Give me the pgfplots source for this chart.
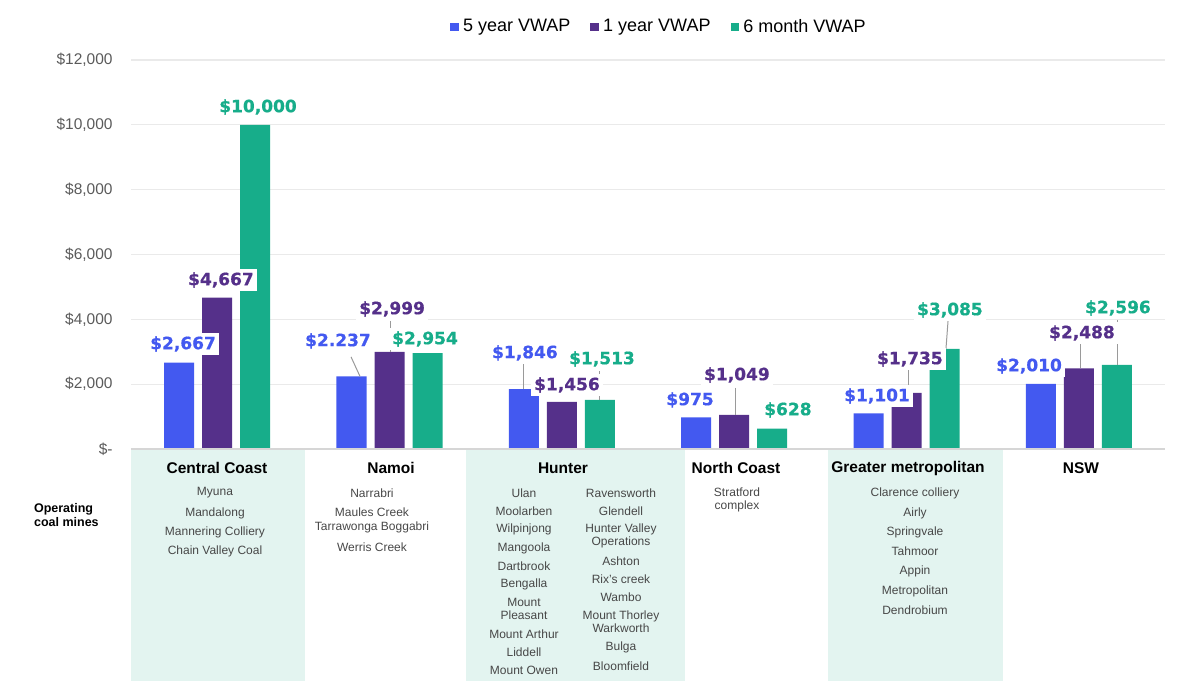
\documentclass[border=0pt]{standalone}
\usepackage{fontspec}
\setmainfont{Liberation Sans}
\newfontfamily\valfont[FakeBold=0.6]{DejaVu Sans Bold}
\usepackage{pgfplots}
\pgfplotsset{compat=1.18}

\definecolor{cblue}{HTML}{4359F0}
\definecolor{cpurple}{HTML}{55308A}
\definecolor{cgreen}{HTML}{17AD8A}
\definecolor{tablebg}{HTML}{E3F4F0}
\definecolor{gridc}{HTML}{EAEAEA}
\definecolor{basec}{HTML}{D6D6D6}
\definecolor{tickc}{HTML}{5A5A5A}
\definecolor{namec}{HTML}{474747}
\definecolor{leadc}{HTML}{9A9A9A}

% value labels and name lists
\tikzset{
  val/.style={fill=white, inner sep=1.5pt, font=\valfont\fontsize{8.5}{9}\selectfont},
  lead/.style={leadc, line width=0.5pt},
  hdr/.style={font=\bfseries\fontsize{7.75}{9}\selectfont, text=black},
  mine/.style={font=\fontsize{6}{6.6}\selectfont, text=namec, align=center},
}

\begin{document}
\begin{tikzpicture}
\path[use as bounding box] (-65.5pt,-116pt) rectangle (532pt,224.5pt);

% shaded columns of the mine table (pixel coordinates)
\begin{scope}[shift={(-65.5pt,224.5pt)}, x=0.5pt, y=-0.5pt]
  \fill[tablebg] (131,449) rectangle (305,681);
  \fill[tablebg] (466,449) rectangle (685,681);
  \fill[tablebg] (828,449) rectangle (1003,681);
\end{scope}

\begin{axis}[
    at={(0,0)}, anchor=south west,
    scale only axis,
    width=517pt, height=194.5pt,
    xmin=-0.5, xmax=5.5,
    ymin=0, ymax=12000,
    ybar=4pt, bar width=15pt,
    axis line style={draw=none},
    tick style={draw=none},
    xtick=\empty,
    scaled y ticks=false,
    ytick={0,2000,4000,6000,8000,10000,12000},
    yticklabels={{\$-\hspace{5pt}},{\$2,000},{\$4,000},{\$6,000},{\$8,000},{\$10,000},{\$12,000}},
    yticklabel style={font=\fontsize{7.75}{9}\selectfont, text=tickc, inner sep=0pt, xshift=-9pt},
    ymajorgrids,
    grid style={gridc, line width=0.6pt},
    clip=false,
    legend columns=3,
    legend style={at={(0.5116,1.0848)}, anchor=center, draw=none,
      font=\fontsize{9}{10}\selectfont, inner sep=0pt,
      /tikz/every even column/.append style={column sep=8pt}},
]
\addplot[fill=cblue, draw=none,
  legend image code/.code={\fill[cblue] (0pt,-2.2pt) rectangle (4.4pt,2.2pt);}]
  coordinates {(0,2667) (1,2237) (2,1846) (3,975) (4,1101) (5,2010)};
\addlegendentry{5 year VWAP}
\addplot[fill=cpurple, draw=none,
  legend image code/.code={\fill[cpurple] (0pt,-2.2pt) rectangle (4.4pt,2.2pt);}]
  coordinates {(0,4667) (1,2999) (2,1456) (3,1049) (4,1735) (5,2488)};
\addlegendentry{1 year VWAP}
\addplot[fill=cgreen, draw=none,
  legend image code/.code={\fill[cgreen] (0pt,-2.2pt) rectangle (4.4pt,2.2pt);}]
  coordinates {(0,10000) (1,2954) (2,1513) (3,628) (4,3085) (5,2596)};
\addlegendentry{6 month VWAP}

\draw[basec, line width=0.7pt] (axis cs:-0.5,0) -- (axis cs:5.5,0);

% leader lines
\draw[lead] (axis cs:0.777,2840) -- (axis cs:0.829,2237);
\draw[lead] (axis cs:1.003,3950) -- (axis cs:1.003,2999);
\draw[lead] (axis cs:1.775,2622) -- (axis cs:1.775,1846);
\draw[lead] (axis cs:2.221,2406) -- (axis cs:2.221,1513);
\draw[lead] (axis cs:3.005,1882) -- (axis cs:3.005,1049);
\draw[lead] (axis cs:4.014,2437) -- (axis cs:4.014,1735);
\draw[lead] (axis cs:4.241,3949) -- (axis cs:4.229,3085);
\draw[lead] (axis cs:5.007,3239) -- (axis cs:5.007,2488);
\draw[lead] (axis cs:5.227,3980) -- (axis cs:5.227,2596);

% value labels
\node[val, text=cblue]   at (axis cs:-0.198,3239) {\$2,667};
\node[val, text=cpurple] at (axis cs:0.022,5213) {\$4,667};
\node[val, text=cgreen]  at (axis cs:0.237,10550) {\$10,000};
\node[val, text=cblue]   at (axis cs:0.701,3332) {\$2.237};
\node[val, text=cpurple] at (axis cs:1.015,4319) {\$2,999};
\node[val, text=cgreen]  at (axis cs:1.206,3393) {\$2,954};
\node[val, text=cblue]   at (axis cs:1.786,2962) {\$1,846};
\node[val, text=cpurple] at (axis cs:2.030,1974) {\$1,456};
\node[val, text=cgreen]  at (axis cs:2.233,2776) {\$1,513};
\node[val, text=cblue]   at (axis cs:2.744,1512) {\$975};
\node[val, text=cpurple] at (axis cs:3.016,2283) {\$1,049};
\node[val, text=cgreen]  at (axis cs:3.312,1203) {\$628};
\node[val, text=cblue]   at (axis cs:3.829,1635) {\$1,101};
\node[val, text=cpurple] at (axis cs:4.020,2776) {\$1,735};
\node[val, text=cgreen]  at (axis cs:4.252,4288) {\$3,085};
\node[val, text=cblue]   at (axis cs:4.711,2560) {\$2,010};
\node[val, text=cpurple] at (axis cs:5.018,3578) {\$2,488};
\node[val, text=cgreen]  at (axis cs:5.227,4350) {\$2,596};
\end{axis}

% mine table text (pixel coordinates)
\begin{scope}[shift={(-65.5pt,224.5pt)}, x=0.5pt, y=-0.5pt]
  \node[font=\bfseries\fontsize{6.25}{7}\selectfont, align=left, anchor=west] at (27,515) {Operating\\coal mines};

  \node[hdr] at (217,468) {Central Coast};
  \node[mine] at (215,493) {Myuna};
  \node[mine] at (215,513) {Mandalong};
  \node[mine] at (215,532) {Mannering Colliery};
  \node[mine] at (215,551) {Chain Valley Coal};

  \node[hdr] at (391,468) {Namoi};
  \node[mine] at (372,493) {Narrabri};
  \node[mine] at (372,512) {Maules Creek};
  \node[mine] at (372,527) {Tarrawonga Boggabri};
  \node[mine] at (372,547) {Werris Creek};

  \node[hdr] at (563,468) {Hunter};
  \node[mine] at (524,493) {Ulan};
  \node[mine] at (524,511) {Moolarben};
  \node[mine] at (524,529) {Wilpinjong};
  \node[mine] at (524,548) {Mangoola};
  \node[mine] at (524,566) {Dartbrook};
  \node[mine] at (524,584) {Bengalla};
  \node[mine] at (524,609) {Mount\\Pleasant};
  \node[mine] at (524,634) {Mount Arthur};
  \node[mine] at (524,652) {Liddell};
  \node[mine] at (524,670) {Mount Owen};
  \node[mine] at (621,493) {Ravensworth};
  \node[mine] at (621,511) {Glendell};
  \node[mine] at (621,536) {Hunter Valley\\Operations};
  \node[mine] at (621,561) {Ashton};
  \node[mine] at (621,579) {Rix's creek};
  \node[mine] at (621,597) {Wambo};
  \node[mine] at (621,622) {Mount Thorley\\Warkworth};
  \node[mine] at (621,647) {Bulga};
  \node[mine] at (621,666) {Bloomfield};

  \node[hdr] at (736,468) {North Coast};
  \node[mine] at (737,500) {Stratford\\complex};

  \node[hdr] at (908,468) {Greater metropolitan};
  \node[mine] at (915,493) {Clarence colliery};
  \node[mine] at (915,513) {Airly};
  \node[mine] at (915,532) {Springvale};
  \node[mine] at (915,551) {Tahmoor};
  \node[mine] at (915,571) {Appin};
  \node[mine] at (915,591) {Metropolitan};
  \node[mine] at (915,610) {Dendrobium};

  \node[hdr] at (1081,468) {NSW};
\end{scope}
\end{tikzpicture}
\end{document}
